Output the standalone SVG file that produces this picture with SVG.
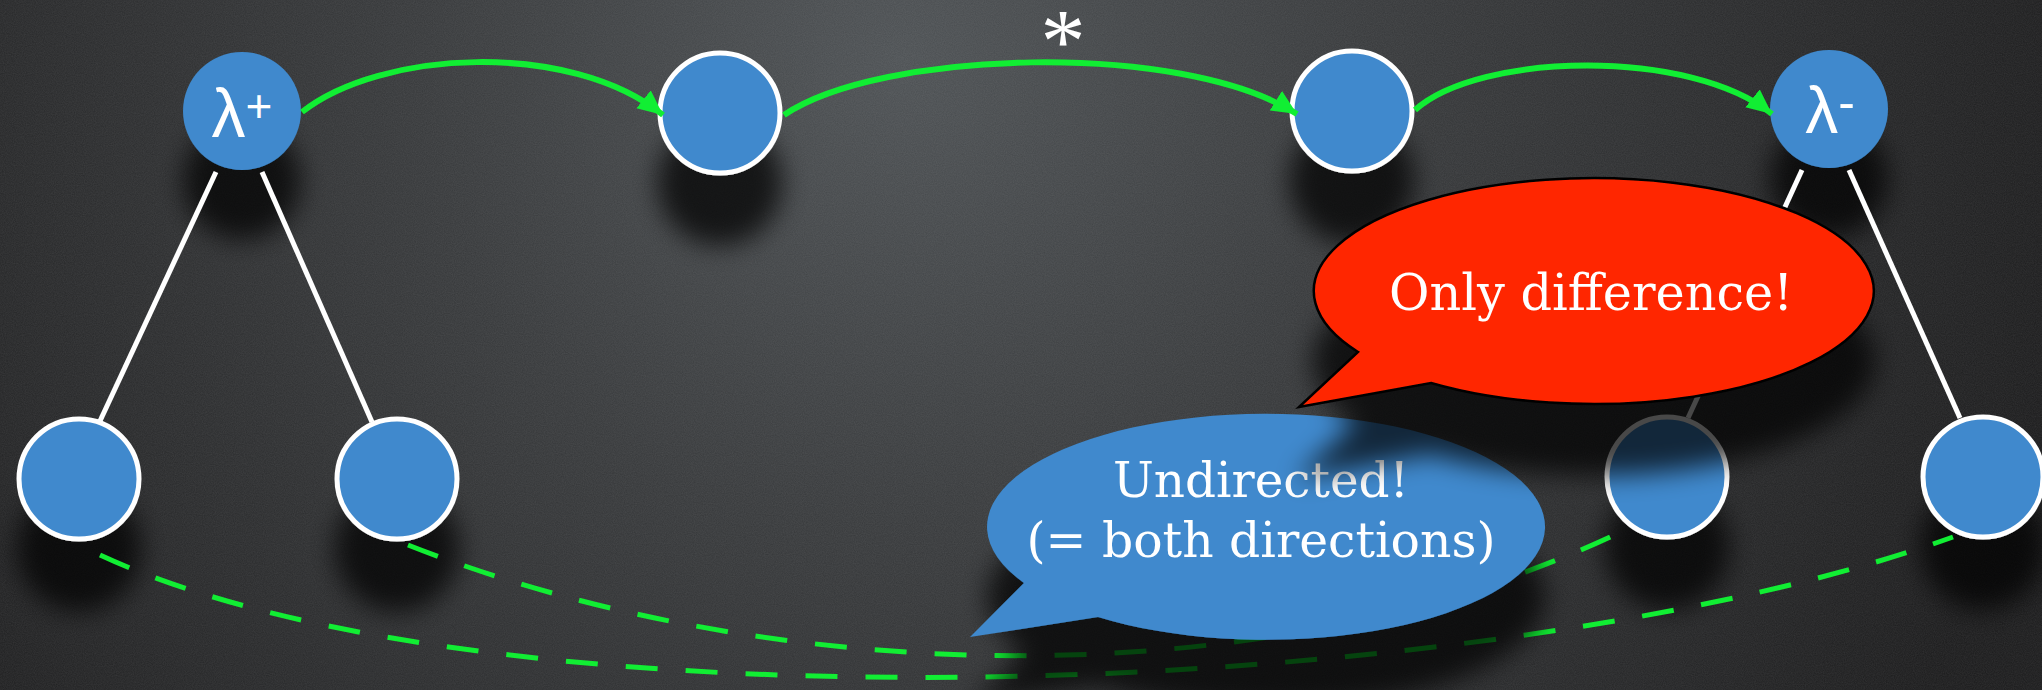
<svg xmlns="http://www.w3.org/2000/svg" width="2042" height="690" viewBox="0 0 2042 690">
<defs>
<radialGradient id="bg" gradientUnits="userSpaceOnUse" cx="900" cy="60" r="1200">
<stop offset="0" stop-color="#4d5154"/>
<stop offset="0.4" stop-color="#37393b"/>
<stop offset="1" stop-color="#1b1b1c"/>
</radialGradient>
<filter id="noise" x="0" y="0" width="100%" height="100%">
<feTurbulence type="fractalNoise" baseFrequency="0.9" numOctaves="2" seed="3"/>
<feColorMatrix type="matrix" values="0 0 0 0 1  0 0 0 0 1  0 0 0 0 1  0 0 0 0.09 0"/>
</filter>
<filter id="shadow" x="-60%" y="-60%" width="220%" height="260%">
<feGaussianBlur in="SourceAlpha" stdDeviation="13"/>
<feOffset dx="0" dy="70" result="b"/>
<feComponentTransfer><feFuncA type="linear" slope="0.72"/></feComponentTransfer>
<feMerge><feMergeNode/><feMergeNode in="SourceGraphic"/></feMerge>
</filter>
<marker id="ah" markerUnits="userSpaceOnUse" markerWidth="26" markerHeight="24" refX="25" refY="11.5" orient="auto">
<path d="M0,0 L25,11.5 L0,23 z" fill="#11ee33"/>
</marker>
<style>
.node{fill:#3f89cd;stroke:#ffffff;stroke-width:5}
.lam{fill:#3f89cd}
.tree{stroke:#ffffff;stroke-width:5;fill:none}
.arc{stroke:#11ee33;stroke-width:6;fill:none}
.dash{stroke:#11ee33;stroke-width:5;fill:none;stroke-dasharray:32 28}
.lbl{fill:#ffffff;font-family:"Liberation Sans","DejaVu Sans",sans-serif}
.bub{fill:#ffffff;font-family:"DejaVu Serif Condensed","DejaVu Serif","Liberation Serif",serif;text-anchor:middle}
</style>
</defs>
<rect width="2042" height="690" fill="url(#bg)"/>
<rect width="2042" height="690" filter="url(#noise)"/>

<g id="node-lambda-plus">
<circle class="lam" cx="242" cy="111" r="59" filter="url(#shadow)"/>
<text class="lbl" x="242" y="137" text-anchor="middle" font-size="68">λ<tspan font-size="46" dy="-15">+</tspan></text>
</g>
<g id="node-top-2" filter="url(#shadow)"><circle class="node" cx="720" cy="113" r="60"/></g>
<g id="node-top-3" filter="url(#shadow)"><circle class="node" cx="1352" cy="111" r="60"/></g>
<g id="node-lambda-minus">
<circle class="lam" cx="1829" cy="109" r="59" filter="url(#shadow)"/>
<text class="lbl" x="1830" y="133" text-anchor="middle" font-size="66">λ<tspan font-size="50" dy="-14">-</tspan></text>
</g>
<g id="node-bl-1" filter="url(#shadow)"><circle class="node" cx="79" cy="479" r="60"/></g>
<g id="node-bl-2" filter="url(#shadow)"><circle class="node" cx="397" cy="479" r="60"/></g>
<g id="node-br-1" filter="url(#shadow)"><circle class="node" cx="1667" cy="477" r="60"/></g>
<g id="node-br-2" filter="url(#shadow)"><circle class="node" cx="1983" cy="477" r="60"/></g>

<g id="connectors">
<line class="tree" x1="216" y1="172" x2="100" y2="421"/>
<line class="tree" x1="262" y1="172" x2="372" y2="422"/>
<line class="tree" x1="1802" y1="170" x2="1688" y2="418"/>
<line class="tree" x1="1849" y1="170" x2="1960" y2="418"/>
<path class="dash" d="M100,555 C500,740 1500,700 1953,537"/>
<path class="dash" d="M408,545 C750,680 1250,710 1625,530"/>
<path class="arc" d="M302,112 C380,50 570,40 663,115" marker-end="url(#ah)"/>
<path class="arc" d="M784,115 C880,50 1180,40 1297,114" marker-end="url(#ah)"/>
<path class="arc" d="M1415,110 C1480,52 1690,48 1772,114" marker-end="url(#ah)"/>
<text x="1063" y="72" text-anchor="middle" font-size="90" fill="#ffffff" font-family="'Liberation Serif',serif">*</text>
</g>

<g id="callout-undirected" filter="url(#shadow)">
<path d="M1024,583 A279,113 0 1 1 1098,617 L970,637 Z" fill="#3f89cd"/>
<text class="bub" x="1261" y="497" font-size="48" textLength="296" lengthAdjust="spacingAndGlyphs">Undirected!</text>
<text class="bub" x="1261" y="557" font-size="48" textLength="469" lengthAdjust="spacingAndGlyphs">(= both directions)</text>
</g>

<g id="callout-difference" filter="url(#shadow)">
<path d="M1358,352 A280,113 0 1 1 1431,383 L1299,407 Z" fill="#ff2600" stroke="#000000" stroke-width="2.5" stroke-linejoin="miter"/>
<text class="bub" x="1591" y="310" font-size="50" textLength="404" lengthAdjust="spacingAndGlyphs">Only difference!</text>
</g>
</svg>
